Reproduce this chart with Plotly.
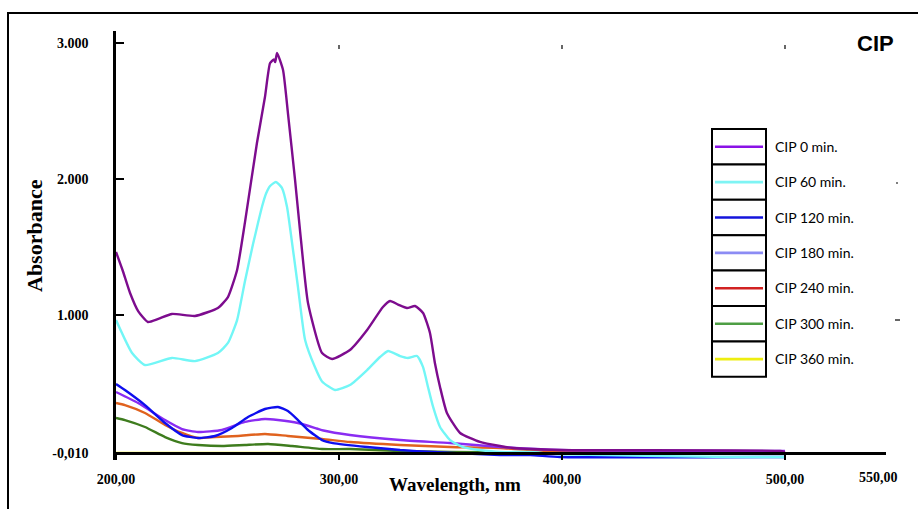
import plotly.graph_objects as go

# ---------------- data ----------------
series_names = ["CIP 0 min.", "CIP 60 min.", "CIP 120 min.", "CIP 180 min.",
                "CIP 240 min.", "CIP 300 min.", "CIP 360 min."]

wl_0 = [200.0, 203.0, 206.3, 210.0, 214.3, 219.0, 225.1, 235.4, 245.7, 250.2, 254.3, 257.8,
        263.2, 266.8, 269.1, 270.8, 271.4, 272.2, 274.9, 277.1, 280.3, 282.5, 286.1, 292.4,
        296.9, 304.9, 312.6, 319.7, 322.9, 326.5, 330.5, 334.1, 337.7, 340.8, 343.0, 345.3,
        348.4, 354.3, 363.2, 372.2, 378.0, 399.1, 497.8, 500.0]
abs_0 = [1.466, 1.330, 1.165, 1.030, 0.952, 0.975, 1.011, 0.996, 1.055, 1.135, 1.334, 1.680,
         2.266, 2.604, 2.853, 2.880, 2.860, 2.927, 2.802, 2.486, 1.994, 1.627, 1.091, 0.724,
         0.680, 0.746, 0.893, 1.062, 1.106, 1.080, 1.055, 1.069, 1.018, 0.871, 0.651, 0.475,
         0.284, 0.137, 0.071, 0.041, 0.027, 0.012, 0.005, -0.003]

wl_60 = [200.0, 207.2, 213.0, 225.1, 235.4, 245.7, 250.2, 254.3, 257.8, 261.4, 263.7,
         265.5, 267.3, 269.1, 271.7, 274.4, 276.7, 278.0, 281.6, 284.8, 289.2, 292.4, 298.2,
         304.9, 312.6, 318.4, 322.0, 327.4, 330.9, 335.0, 337.7, 339.9, 342.2, 345.3,
         349.8, 355.6, 363.2, 372.2, 385.7, 399.1, 475.3, 500.0]
abs_60 = [0.966, 0.724, 0.636, 0.688, 0.665, 0.724, 0.798, 0.966, 1.250, 1.520, 1.680,
          1.800, 1.895, 1.950, 1.980, 1.936, 1.796, 1.649, 1.209, 0.820, 0.621, 0.515, 0.453,
          0.489, 0.599, 0.695, 0.739, 0.702, 0.688, 0.702, 0.621, 0.475, 0.328, 0.181,
          0.085, 0.034, 0.012, -0.003, -0.003, -0.020, -0.039, -0.039]

wl_120 = [200.0, 204.0, 213.0, 222.0, 229.6, 236.8, 244.4, 252.0, 259.2, 266.8, 272.6,
          277.1, 281.6, 286.1, 292.4, 297.3, 312.6, 327.4, 342.2, 372.2, 385.7, 399.1, 500.0]
abs_120 = [0.497, 0.453, 0.342, 0.210, 0.122, 0.100, 0.115, 0.174, 0.254, 0.313, 0.328,
           0.298, 0.232, 0.159, 0.085, 0.063, 0.034, 0.012, -0.003, -0.025, -0.025, -0.039, -0.039]

wl_180 = [200.0, 209.9, 222.0, 229.6, 236.8, 247.5, 257.8, 266.8, 272.6, 281.6, 290.0,
          293.0, 304.9, 327.4, 349.8, 372.2, 399.1, 500.0]
abs_180 = [0.438, 0.357, 0.232, 0.166, 0.144, 0.159, 0.218, 0.240, 0.232, 0.210, 0.170,
           0.155, 0.122, 0.085, 0.063, 0.034, 0.012, 0.005]

wl_240 = [200.0, 204.0, 213.0, 222.0, 229.6, 236.8, 244.4, 254.7, 266.8, 277.1, 292.4,
          304.9, 327.4, 349.8, 372.2, 399.1, 500.0]
abs_240 = [0.357, 0.342, 0.284, 0.196, 0.137, 0.100, 0.107, 0.115, 0.130, 0.115, 0.093,
           0.071, 0.049, 0.034, 0.027, -0.003, -0.003]

wl_300 = [200.0, 204.0, 213.0, 222.0, 229.6, 236.8, 247.5, 257.8, 268.2, 278.9, 292.4,
          304.9, 327.4, 349.8, 399.1]
abs_300 = [0.247, 0.232, 0.181, 0.107, 0.063, 0.049, 0.041, 0.049, 0.056, 0.041, 0.019,
           0.019, 0.005, -0.003, -0.010]

wl_360 = [200.0, 300.0, 400.0, 500.0]
abs_360 = [-0.010, -0.010, -0.010, -0.010]

series_wl = [wl_0, wl_60, wl_120, wl_180, wl_240, wl_300, wl_360]
series_abs = [abs_0, abs_60, abs_120, abs_180, abs_240, abs_300, abs_360]

curve_colors = ["#7D0C8E", "#72F6F6", "#0E0EEE", "#8A2CF2", "#E0621E", "#3E7C1E", "#F2F000"]
legend_colors = ["#8A12E6", "#7EF4F4", "#1414DC", "#8C8CF4", "#D22222", "#4E9E44", "#EEEE10"]

x_tick_vals = [200, 300, 400, 500]
x_tick_text = ["200,00", "300,00", "400,00", "500,00"]
y_tick_vals = [-0.01, 1.0, 2.0, 3.0]
y_tick_text = ["-0,010", "1.000", "2.000", "3.000"]

# ---------------- layout geometry (pixels) ----------------
W, H = 918, 509
PL, PR, PT, PB = 116, 886, 31, 460   # plot area in pixels
X0, X1 = 200.0, 200.0 + (PR - PL) / 2.23
Y_BASE = -0.01
Y0 = Y_BASE - (PB - 453) / 136.2
Y1 = Y_BASE + (453 - PT) / 136.2


def px(xp):
    return (xp - PL) / (PR - PL)


def py(yp):
    return (PB - yp) / (PB - PT)


fig = go.Figure()

draw_order = [6, 5, 4, 3, 2, 1, 0]
for i in draw_order:
    fig.add_trace(go.Scatter(
        x=series_wl[i], y=series_abs[i], mode="lines", name=series_names[i],
        line=dict(color=curve_colors[i], width=2.4, shape="spline", smoothing=0.5),
        showlegend=False, hoverinfo="x+y+name"))

shapes = []
annotations = []

# outer frame of the picture
shapes.append(dict(type="rect", xref="paper", yref="paper",
                   x0=px(8), x1=px(921), y0=py(513), y1=py(13),
                   line=dict(color="black", width=2), fillcolor="rgba(0,0,0,0)", layer="below"))

# small marks at the top of the frame (mirrored x ticks)
for v in x_tick_vals[1:]:
    shapes.append(dict(type="line", xref="x", yref="paper", x0=v, x1=v,
                       y0=py(49), y1=py(45), line=dict(color="black", width=1.2)))

# tiny marks on the right side
shapes.append(dict(type="line", xref="paper", yref="paper", x0=px(896), x1=px(898),
                   y0=py(183), y1=py(183), line=dict(color="black", width=1.2)))
shapes.append(dict(type="line", xref="paper", yref="paper", x0=px(895), x1=px(900),
                   y0=py(320), y1=py(320), line=dict(color="black", width=1.2)))

# manual boxed legend
box_top = 129
box_h = 35.4
for k, name in enumerate(series_names):
    t = box_top + k * box_h
    b = t + box_h
    c = (t + b) / 2
    shapes.append(dict(type="rect", xref="paper", yref="paper",
                       x0=px(712), x1=px(766), y0=py(b), y1=py(t),
                       line=dict(color="black", width=2), fillcolor="white"))
    shapes.append(dict(type="line", xref="paper", yref="paper",
                       x0=px(715), x1=px(763), y0=py(c), y1=py(c),
                       line=dict(color=legend_colors[k], width=2.6)))
    annotations.append(dict(xref="paper", yref="paper", x=px(773), y=py(c - 0.5),
                            text=name, showarrow=False, xanchor="left", yanchor="middle",
                            font=dict(family="Lato, Noto Sans, sans-serif", size=14, color="black")))

# title mark "CIP"
annotations.append(dict(xref="paper", yref="paper", x=px(875), y=py(43), text="<b>CIP</b>",
                        showarrow=False, xanchor="center", yanchor="middle",
                        font=dict(family="Liberation Sans, Arial, sans-serif", size=22, color="black")))

# extra tick label at the end of the wavelength axis
annotations.append(dict(xref="paper", yref="paper", x=px(878), y=py(478), text="<b>550,00</b>",
                        showarrow=False, xanchor="center", yanchor="middle",
                        font=dict(family="Liberation Serif, Times New Roman, serif", size=14, color="black")))

# axis titles placed as in the reference
annotations.append(dict(xref="paper", yref="paper", x=px(455), y=py(484),
                        text="<b>Wavelength, nm</b>", showarrow=False,
                        xanchor="center", yanchor="middle",
                        font=dict(family="Liberation Serif, Times New Roman, serif", size=19, color="black")))
annotations.append(dict(xref="paper", yref="paper", x=px(34), y=py(236),
                        text="<b>Absorbance</b>", showarrow=False, textangle=-90,
                        xanchor="center", yanchor="middle",
                        font=dict(family="Liberation Serif, Times New Roman, serif", size=22, color="black")))

tick_font = dict(family="Liberation Serif, Times New Roman, serif", size=14, color="black", weight="bold")

fig.update_layout(
    width=W, height=H, autosize=False,
    margin=dict(l=PL, r=W - PR, t=PT, b=H - PB, pad=0),
    paper_bgcolor="white", plot_bgcolor="white",
    showlegend=False,
    shapes=shapes, annotations=annotations,
    xaxis=dict(range=[X0, X1], anchor="free", position=(PB - 453) / (PB - PT),
               tickmode="array", tickvals=x_tick_vals, ticktext=x_tick_text,
               showline=True, linecolor="black", linewidth=2.5,
               ticks="outside", ticklen=5, tickwidth=1.5, tickcolor="black",
               ticklabelstandoff=7,
               showgrid=False, zeroline=False, tickfont=tick_font),
    yaxis=dict(range=[Y0, Y1],
               tickmode="array", tickvals=y_tick_vals, ticktext=y_tick_text,
               showline=True, linecolor="black", linewidth=2.5,
               ticks="inside", ticklen=8, tickwidth=2, tickcolor="black",
               ticklabelstandoff=22,
               showgrid=False, zeroline=False, tickfont=tick_font),
)

fig.write_html("out.html", config={"displayModeBar": False},
               post_script="document.body.style.margin='0';")
